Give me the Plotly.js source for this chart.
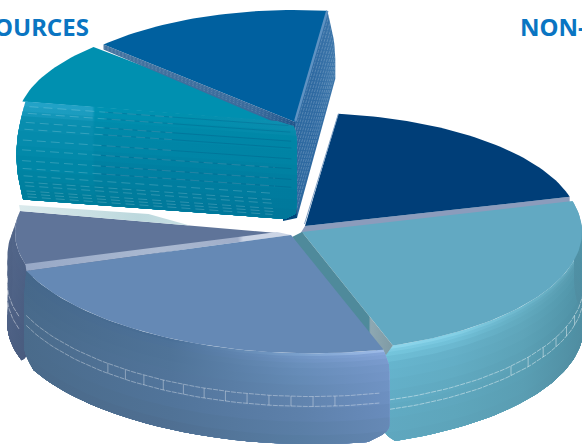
<!DOCTYPE html>
<html>
<head>
<meta charset="utf-8">
<script src="https://cdn.plot.ly/plotly-3.0.1.min.js"></script>
<style>html,body{margin:0;padding:0;background:#fff;overflow:hidden}#chart{width:582px;height:444px}</style>
</head>
<body>
<div id="chart"></div>
<script>
// Slice shares in percent, clockwise from the first slice's start angle.
const shares = [18.9, 23.9, 24.2, 9.2, 9.0, 14.8];
const topColors = ['#003e78', '#62a9c2', '#6589b5', '#5f7499', '#0090b0', '#00609f'];
const headings = ['OURCES', 'NON-'];
const startAngle = 7;

// Projected ellipse of each exploded slice.
const discs = [
  {cx: 305, cy: 226, rx: 274, ry: 113, h: 90, bevel: 0, shear: 0, trim: 0, extend: 0, lead: 0},
  {cx: 302, cy: 232, rx: 280, ry: 120, h: 95, bevel: 0.006, shear: 0, trim: 0.8, extend: 2, lead: 0},
  {cx: 291, cy: 235, rx: 285, ry: 118, h: 90, bevel: 0.008, shear: 0.03, trim: 1.5, extend: 0, lead: 1.1},
  {cx: 277, cy: 233, rx: 262, ry: 112, h: 90, bevel: 0.03, shear: 0, trim: 1, extend: 0, lead: 0},
  {cx: 293, cy: 123, rx: 276, ry: 110, h: 96, bevel: 0, shear: 0, trim: 0, extend: 0, lead: 0},
  {cx: 295, cy: 122, rx: 265, ry: 112, h: 96, bevel: 0, shear: 0, trim: 0, extend: 0, lead: 0}
];

const angles = [];
shares.reduce((a, s) => { angles.push([a, a + s * 3.6]); return a + s * 3.6; }, startAngle);

const rad = Math.PI / 180;
const traces = [];
const rim = (g, t, d = 0, r = 1) => {
  const dx = g.rx * r * Math.sin(t * rad);
  return [g.cx + dx, g.cy - g.ry * r * Math.cos(t * rad) + g.shear * dx + d * g.h];
};
const lerp = (a, b, f) => [a[0] + (b[0] - a[0]) * f, a[1] + (b[1] - a[1]) * f];
const hex = c => [1, 3, 5].map(i => parseInt(c.substr(i, 2), 16));
const mix = (a, b, f) => {
  const p = hex(a), q = hex(b);
  return '#' + p.map((v, i) => Math.round(v + (q[i] - v) * f).toString(16).padStart(2, '0')).join('');
};
const poly = (pts, fill, extra) => traces.push(Object.assign({
  x: pts.map(p => p[0]), y: pts.map(p => p[1]), type: 'scatter', mode: 'lines', fill: 'toself',
  fillcolor: fill, line: {width: 0}, hoverinfo: 'skip', showlegend: false
}, extra || {}));
const gradient = (stops, colors) => ({
  fillgradient: {type: 'horizontal', colorscale: stops.map((s, i) => [s, colors[i]])}
});
const stroke = (pts, color, width, dash) => traces.push({
  x: pts.map(p => p[0]), y: pts.map(p => p[1]), type: 'scatter', mode: 'lines',
  line: {color, width, dash: dash || 'solid'}, hoverinfo: 'skip', showlegend: false
});
const arc = (g, a, b, d = 0, r = 1) => {
  const n = Math.max(2, Math.ceil(Math.abs(b - a) / 1.5));
  return Array.from({length: n + 1}, (_, i) => rim(g, a + (b - a) * i / n, d, r));
};
const wedge = (i, color) => {
  const g = discs[i];
  poly([[g.cx, g.cy], ...arc(g, angles[i][0], angles[i][1])], color);
};
const rowColors = (keys, d) => {
  let k = 0;
  while (k < keys.length - 2 && d > keys[k + 1].d) k++;
  const f = Math.min(1, (d - keys[k].d) / (keys[k + 1].d - keys[k].d));
  return keys[k].c.map((c, i) => mix(c, keys[k + 1].c[i], f));
};
const bandDepths = [0, .03, .06, .1, .16, .24, .34, .46, .6, .75, .9];

// Curved outer wall, painted as overlapping depth bands from rim to base.
function wall(i, stops, keys) {
  const g = discs[i], a = angles[i][0], b = angles[i][1] + g.extend;
  const rad2 = d => 1 + g.bevel * Math.min(1, d * 4);
  const cut = d => g.trim * (d > .85 ? Math.pow((d - .85) / .15, 2) * 3 : 0);
  const from = d => a - g.lead * Math.min(1, d * 6) + cut(d);
  bandDepths.forEach(d0 => {
    const steps = Array.from({length: 9}, (_, j) => d0 + (1 - d0) * j / 8);
    const pts = [
      ...arc(g, from(d0), b - cut(d0), d0, rad2(d0)),
      ...steps.map(d => rim(g, b - cut(d), d, rad2(d))),
      ...arc(g, b - cut(1), from(1), 1, rad2(1)),
      ...steps.slice().reverse().map(d => rim(g, from(d), d, rad2(d)))
    ];
    poly(pts, rowColors(keys, d0), gradient(stops, rowColors(keys, d0)));
  });
}
function wallLines(i, a, b, rows, ticks, alpha) {
  const g = discs[i];
  rows.forEach(d => stroke(arc(g, a, b, d, 1 + g.bevel), `rgba(255,255,255,${alpha})`, 0.8, '5px,1px'));
  ticks.forEach(t => stroke([rim(g, t, rows[0], 1 + g.bevel), rim(g, t, rows[1], 1 + g.bevel)], `rgba(255,255,255,${alpha})`, 0.8));
}
const range = (from, step, n) => Array.from({length: n}, (_, k) => from + step * k);

/* ---- upper pair of slices ---- */
{
  const g = discs[5], [a, b] = angles[5];
  const T = [g.cx, g.cy], O = rim(g, b);
  const inner = d => [T[0] + 2 * d, T[1] + g.h * d];
  const outer = d => [O[0] + 8 * Math.sin(Math.min(1, d * 1.4) * Math.PI / 2), O[1] + 68 * d];
  const ds = range(0, .1, 11);
  poly([inner(0), ...ds.map(outer), inner(1)], '#356ea3', gradient([0, .5, 1], ['#2c689f', '#2f6aa2', '#3d77ab']));
  range(.08, .082, 11).forEach(d => stroke([inner(d), outer(d)], 'rgba(255,255,255,0.27)', 0.7, '3px,1px'));
  // dark inside of the slice, seen behind the neighbour's rounded corner
  poly([[T[0] - 12, T[1] + 2], T, inner(1), [T[0] - 12, T[1] + g.h + 3]], '#00477c');
  wedge(5, topColors[5]);
  stroke([lerp(T, O, .01), lerp(T, O, 1)], '#5f92c2', 2.4);

  const t = discs[4], [ta, tb] = angles[4];
  wedge(4, topColors[4]);
  // thin cut face between the two upper slices
  const L = rim(g, a);
  poly([L, T, [T[0], T[1] + 9], [L[0], L[1] + 5]], '#3a6b9c', gradient([0, .8, 1], ['#44739f', '#3a6b9c', '#20548a']));
  range(.2, .25, 3).forEach(f => stroke([[L[0], L[1] + 5 * f], [T[0], T[1] + 9 * f]], 'rgba(255,255,255,0.22)', 0.6, '2px,2px'));

  // broad front cut face of the teal slice
  const P = rim(t, ta);
  const faceOuter = d => [P[0] + 3 - 9 * Math.sin(d * Math.PI * .92), P[1] + 98 * d];
  const faceInner = d => {
    const e = Math.abs(2 * d - 1);
    const s = Math.pow(1 - Math.pow(e, 5), 1 / 5);
    return [(d < .5 ? 277 + 20 * s : 285 + 12 * s), t.cy - 2 + 98 * d];
  };
  const fs = [0, .03, .07, .12, .2, .3, .42, .55, .68, .8, .9];
  const keys = [
    {d: 0, c: ['#22a3c8', '#20a0c4', '#0092b2', '#0090ae', '#0f8eb0']},
    {d: .12, c: ['#0a8fb0', '#0a8fb0', '#008bab', '#0089a9', '#0087a7']},
    {d: .5, c: ['#0087a7', '#0087a7', '#0082a3', '#0080a2', '#007fa1']},
    {d: 1, c: ['#007c99', '#007c99', '#007a98', '#00779a', '#007598']}
  ];
  const ss = range(0, .05, 21);
  fs.forEach(d0 => {
    const down = ss.filter(s => s >= d0).concat(1);
    const pts = [...down.map(faceInner), ...down.slice().reverse().map(faceOuter)];
    poly(pts, rowColors(keys, d0), gradient([0, .27, .28, .6, 1], rowColors(keys, d0)));
  });
  const rows = [.05, .118, .21, .28, .39, .49, .6, .68, .755, .82, .857, .91, .94, .97];
  rows.forEach(d => {
    const A = faceOuter(d), B = faceInner(d);
    stroke([lerp(A, B, .02), lerp(A, B, d > .45 ? .92 : .55)], 'rgba(255,255,255,0.3)', 0.6, '9px,5px');
    if (d < .75) stroke([lerp(A, B, .3), lerp(A, B, .98)], 'rgba(0,62,110,0.35)', 0.6);
  });
}

/* ---- navy slice at the back right ---- */
{
  const g = discs[0], [a, b] = angles[0];
  const T = [g.cx, g.cy], R = rim(g, b);
  poly([T, R, [R[0], R[1] + 6], [T[0] - 5, T[1] + 8]], '#8b9cbc');
  wedge(0, topColors[0]);
  stroke([[T[0] - .5, T[1] - 2], rim(g, a)], '#7fa0c4', 1);
}

/* ---- slate slice on the left ---- */
{
  const g = discs[3], [a, b] = angles[3];
  wall(3, [0, .5, 1], [
    {d: 0, c: ['#54678a', '#4f6387', '#4a5e82']},
    {d: 1, c: ['#4d6084', '#4a5d80', '#495b7e']}
  ]);
  wedge(3, topColors[3]);
  wallLines(3, 253, 273, [.55, .69], [], 0.55);
  const T = [g.cx, g.cy], E = rim(g, b);
  // pale band along the neighbouring big slice's edge
  const q = discs[2], Q = [q.cx, q.cy], L = rim(q, angles[2][1]);
  poly([L, Q, [Q[0] - 14, Q[1] - 3], [L[0] - 1, L[1] - 7]], '#a0aec9',
       gradient([0, .5, .8, .82, 1], ['#97a8c6', '#aab9d1', '#a0aec9', '#c8d2e4', '#cdd6e6']));
  // pale highlight along the back edge
  const F = lerp(E, T, .66);
  poly([[E[0] - 1, E[1] - 6], [lerp(E, T, .5)[0], lerp(E, T, .5)[1] - 8], F, lerp(E, T, .5), E], '#c5dde2',
       gradient([0, .7, 1], ['#dbeaec', '#bcd8dd', '#c9e0e4']));
}

/* ---- light teal slice at the front right ---- */
{
  const g = discs[1], [a, b] = angles[1];
  wall(1, [0, .35, .7, 1], [
    {d: 0, c: ['#8ed6ec', '#84d0e6', '#6cb6cb', '#5ea2b6']},
    {d: .04, c: ['#78c9e0', '#74c4dc', '#64adc3', '#5698ac']},
    {d: .14, c: ['#66b5ce', '#65b0c8', '#5fa6bb', '#5094a8']},
    {d: .5, c: ['#61acc5', '#5fa8bf', '#5a9fb4', '#4e8ea2']},
    {d: 1, c: ['#5ea6bd', '#5da3b9', '#5a9db2', '#4f8ca0']}
  ]);
  wedge(1, topColors[1]);
  wallLines(1, b + 2, 90, [.56, .66], range(104.6, 5.5, 6), 0.55);
  const T = [g.cx, g.cy], C = rim(g, b);
  poly([T, C, [C[0] - 10, C[1] + 14], [T[0] - 10, T[1] + 5]], '#4f8a9b',
       gradient([0, .76, .78, 1], ['#4f8a9b', '#4f8a9b', '#8ea8b2', '#7e9aa4']));
}

/* ---- large blue slice at the front ---- */
{
  const g = discs[2], [a, b] = angles[2];
  wall(2, [0, .4, .75, 1], [
    {d: 0, c: ['#44678a', '#4a6f97', '#7aa0cc', '#a0bdea']},
    {d: .03, c: ['#45678a', '#4d7299', '#7095c4', '#86a6da']},
    {d: .12, c: ['#46688a', '#4f7398', '#678db9', '#7698ca']},
    {d: .5, c: ['#4a6b8b', '#52759c', '#5f82ac', '#6c8fc0']},
    {d: 1, c: ['#4a6a8a', '#4e6e90', '#557aa0', '#5f82ac']}
  ]);
  wedge(2, topColors[2]);
  wallLines(2, b - 1, a + 1, [.47, .58], range(171.2, 4.4, 12), 0.45);
}

const font = {family: '"Noto Sans", sans-serif', size: 24, color: '#0a75c2', weight: 700};
const layout = {
  width: 582, height: 444, margin: {l: 0, r: 0, t: 0, b: 0},
  paper_bgcolor: '#fff', plot_bgcolor: '#fff', showlegend: false, hovermode: false,
  xaxis: {range: [0, 582], visible: false, fixedrange: true},
  yaxis: {range: [444, 0], visible: false, fixedrange: true},
  annotations: [
    {x: 91, y: 26, xref: 'x', yref: 'y', xanchor: 'right', yanchor: 'middle', text: headings[0], showarrow: false, font},
    {x: 518, y: 26, xref: 'x', yref: 'y', xanchor: 'left', yanchor: 'middle', text: headings[1], showarrow: false, font}
  ]
};
Plotly.newPlot('chart', traces, layout, {staticPlot: true, displayModeBar: false});
</script>
</body>
</html>
